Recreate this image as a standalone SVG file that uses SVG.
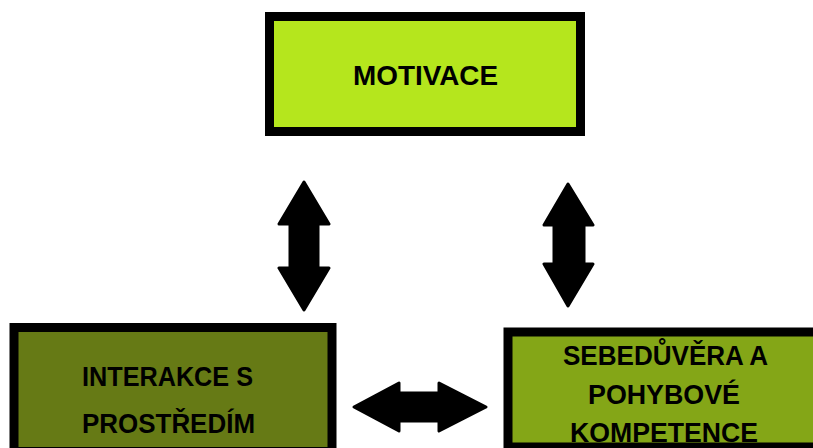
<svg xmlns="http://www.w3.org/2000/svg" width="813" height="448" viewBox="0 0 813 448">
<style>
.box{stroke:#000;stroke-width:9}
.lbl{font-family:"Liberation Sans",Arial,sans-serif;font-weight:bold;font-size:27px;fill:#000;text-anchor:middle}
.arr{fill:#000;stroke:#000;stroke-width:3;stroke-linejoin:round}
</style>
<rect width="813" height="448" fill="#fff"/>
<g id="motivace">
<rect class="box" x="269.5" y="16.5" width="311" height="115" fill="#b5e61d"/>
<text class="lbl" x="425.5" y="85" textLength="145" lengthAdjust="spacingAndGlyphs">MOTIVACE</text>
</g>
<g id="interakce">
<rect class="box" x="14" y="327.5" width="318" height="124" fill="#667a15"/>
<text class="lbl" x="167.5" y="386" textLength="171" lengthAdjust="spacingAndGlyphs">INTERAKCE S</text>
<text class="lbl" x="168.5" y="433" textLength="173" lengthAdjust="spacingAndGlyphs">PROSTŘEDÍM</text>
</g>
<g id="sebeduvera">
<rect class="box" x="508" y="332" width="320" height="115" fill="#84a617"/>
<text class="lbl" x="665.5" y="365" textLength="205" lengthAdjust="spacingAndGlyphs">SEBEDŮVĚRA A</text>
<text class="lbl" x="664" y="404" textLength="152" lengthAdjust="spacingAndGlyphs">POHYBOVÉ</text>
<text class="lbl" x="664" y="442" textLength="188" lengthAdjust="spacingAndGlyphs">KOMPETENCE</text>
</g>
<g id="connectors">
<polygon class="arr" points="304,182 329,224 318,224 318,268 329,268 304,310 279,268 290,268 290,224 279,224"/>
<polygon class="arr" points="568,184 593,225 584,225 584,264 593,264 568,306 544,264 554,264 554,225 544,225"/>
<polygon class="arr" points="354,407 399,383 399,393 439,393 439,383 486,407 439,431 439,421 399,421 399,431"/>
</g>
</svg>
